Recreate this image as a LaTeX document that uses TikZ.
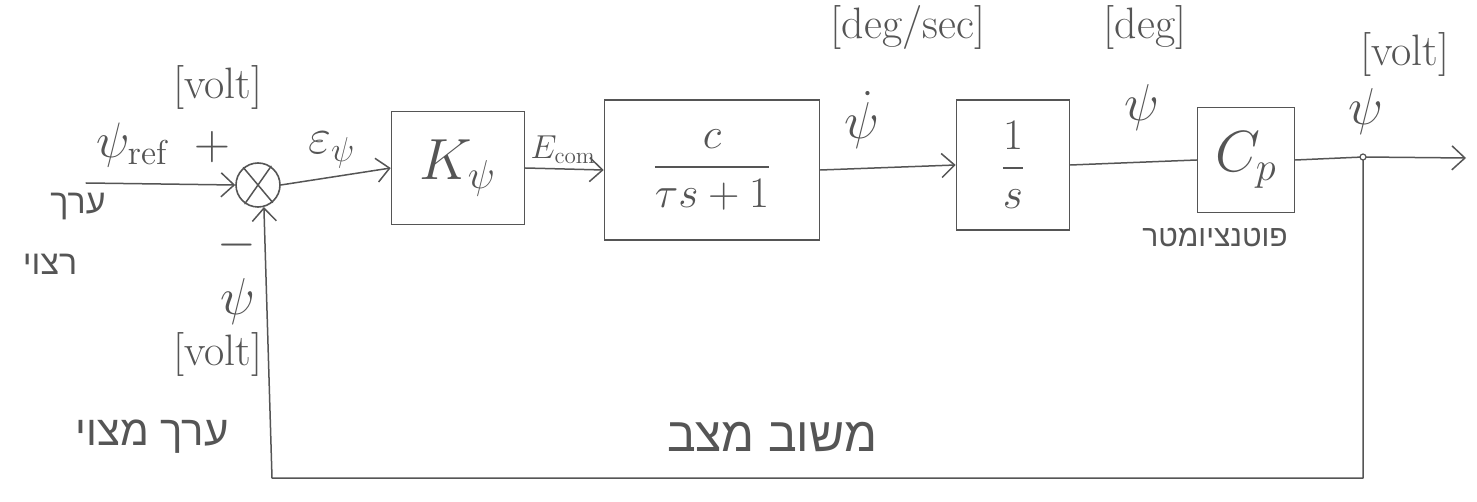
\documentclass[tikz,border=0pt]{standalone}
\usepackage{fontspec}
\usepackage{amsmath}
\usepackage{graphicx}
\usetikzlibrary{arrows.meta}
\TeXXeTstate=1
\newfontfamily\hebfont[Script=Hebrew]{Liberation Sans}
\definecolor{pencil}{HTML}{555555}
% math set at a size the math fonts provide, then enlarged
\newcommand\bigmath[2]{\scalebox{#1}{$#2$}}
\tikzset{
  wire/.style={draw=pencil, line width=1.5pt, line cap=round, line join=round},
  flow/.style={wire, -{Straight Barb[length=13pt,width=24pt,line width=1.5pt]}},
  blockbox/.style={draw=pencil, line width=1.6pt, inner sep=0pt, text=pencil,
                   font=\fontsize{20.74}{25}\selectfont},
  lbl/.style={text=pencil, font=\fontsize{44}{50}\selectfont, inner sep=1pt},
  sym/.style={text=pencil, font=\fontsize{20.74}{25}\selectfont, inner sep=1pt},
  heb/.style={text=pencil, inner sep=1pt},
}
\begin{document}
\begin{tikzpicture}[x=1pt,y=-1pt]
\useasboundingbox[fill=white] (0,0) rectangle (1477,502);

% summing junction
\node[draw=pencil, line width=1.6pt, circle, minimum size=44pt, inner sep=0pt] (sum) at (258,185) {};
\draw[wire] (sum.130) -- (sum.-50);
\draw[wire] (sum.55) -- (sum.-125);

% forward blocks
\node[blockbox, minimum width=133pt, minimum height=113pt] (K) at (458,168) {\bigmath{2.8}{K_{\psi}}};
\node[blockbox, minimum width=215pt, minimum height=140pt] (G) at (712,170) {\bigmath{2.1}{\dfrac{c}{\tau s+1}}};
\node[blockbox, minimum width=113pt, minimum height=130pt] (I) at (1013,165) {\bigmath{2.1}{\dfrac{1}{s}}};
\node[blockbox, minimum width=97pt, minimum height=105pt] (Cp) at (1246,160) {\bigmath{2.8}{C_p}};

% signal path
\coordinate (in) at (86,183);
\coordinate (tap) at (1363,157);
\coordinate (out) at (1466,158);
\coordinate (fb) at (272,478);

\draw[flow] (in) -- (sum.west);
\draw[flow] (sum.east) -- (K.west);
\draw[flow] (K.east) -- (G.west);
\draw[flow] (G.east) -- (I.west);
\draw[wire] (I.east) -- (Cp.west);
\draw[wire] (Cp.east) -- (tap);
\draw[flow] (tap) -- (out);
\draw[flow] (tap) |- (fb) -- (sum.-75);
\node[draw=pencil, line width=1.2pt, fill=white, circle, minimum size=6pt, inner sep=0pt] (dot) at (tap) {};

% signal labels
\node[lbl] (unitin) at (218,88) {[volt]};
\node[sym] (psiref) at (132,145) {\bigmath{2.4}{\psi_{\mathrm{ref}}}};
\node[sym] (plus) at (212,147) {\bigmath{2.4}{+}};
\node[sym] (eps) at (332,150) {\bigmath{2.4}{\varepsilon_{\psi}}};
\node[sym] (ecom) at (563,150) {\bigmath{1.6}{E_{\mathrm{com}}}};
\node[lbl] (dunit) at (908,28) {[deg/sec]};
\node[sym] (psidot) at (862,120) {\bigmath{2.5}{\dot{\psi}}};
\node[lbl] (degunit) at (1145,28) {[deg]};
\node[sym] (psimid) at (1142,108) {\bigmath{2.5}{\psi}};
\node[lbl] (vunit) at (1405,55) {[volt]};
\node[sym] (psiout) at (1366,112) {\bigmath{2.5}{\psi}};
\node[sym] (minus) at (237,245) {\bigmath{2.4}{-}};
\node[sym] (psifb) at (238,302) {\bigmath{2.5}{\psi}};
\node[lbl] (fbunit) at (218,355) {[volt]};

% Hebrew notes
\node[heb, font=\hebfont\fontsize{34}{40}\selectfont] (desired1) at (78,207) {\beginR ערך\endR};
\node[heb, font=\hebfont\fontsize{34}{40}\selectfont] (desired2) at (50,264) {\beginR רצוי\endR};
\node[heb, font=\hebfont\fontsize{42}{48}\selectfont] (actual) at (152,437) {\beginR ערך מצוי\endR};
\node[heb, font=\hebfont\fontsize{48}{54}\selectfont] (statefb) at (772,437) {\beginR משוב מצב\endR};
\node[heb, font=\hebfont\fontsize{30}{34}\selectfont] (pot) at (1215,238) {\beginR פוטנציומטר\endR};
\end{tikzpicture}
\end{document}
